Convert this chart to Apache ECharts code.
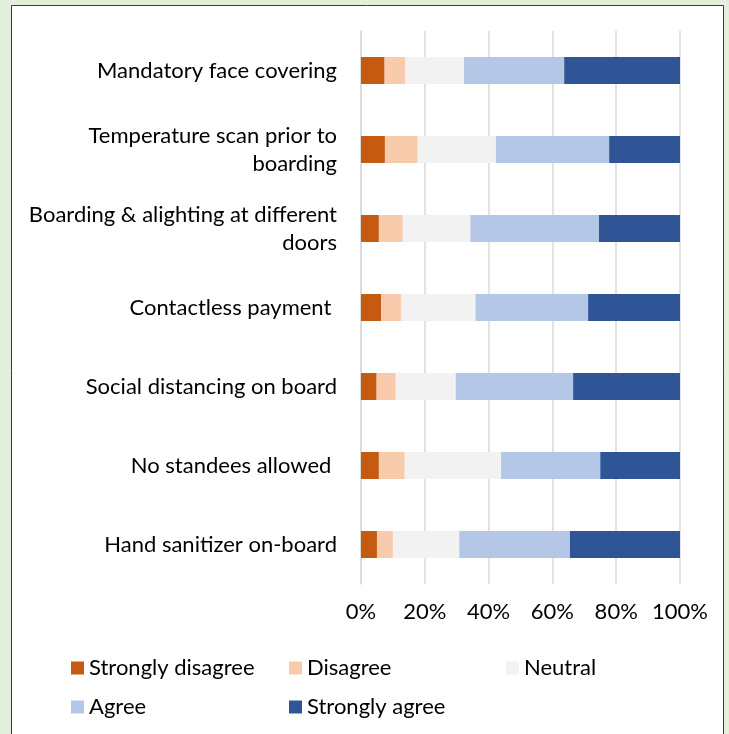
<!DOCTYPE html>
<html>
<head>
<meta charset="utf-8">
<script src="https://cdn.jsdelivr.net/npm/echarts@6/dist/echarts.min.js"></script>
<style>
  html, body { margin: 0; padding: 0; background: #e2efda; overflow: hidden; }
  #chart { width: 729px; height: 734px; }
</style>
</head>
<body>
<div id="chart"></div>
<script>
// Survey measures (top to bottom)
const categories = [
  'Mandatory face covering',
  'Temperature scan prior to\nboarding',
  'Boarding & alighting at different\ndoors',
  'Contactless payment ',
  'Social distancing on board',
  'No standees allowed ',
  'Hand sanitizer on-board'
];

// Share of responses per measure, in percent
const stronglyDisagree = [7.4, 7.5, 5.6, 6.3, 4.9, 5.6, 5.0];
const disagree         = [6.5, 10.3, 7.5, 6.4, 6.0, 8.1, 5.0];
const neutral          = [18.4, 24.5, 21.2, 23.2, 18.8, 30.2, 20.8];
const agree            = [31.4, 35.5, 40.3, 35.3, 36.8, 31.1, 34.7];
const stronglyAgree    = [36.3, 22.2, 25.4, 28.8, 33.5, 25.0, 34.5];

const seriesNames = ['Strongly disagree', 'Disagree', 'Neutral', 'Agree', 'Strongly agree'];
const seriesColors = ['#c55a11', '#f8cbad', '#f2f2f2', '#b4c7e7', '#2f5597'];
const seriesData = [stronglyDisagree, disagree, neutral, agree, stronglyAgree];

// Legend grid: three columns, two rows
const legendCols = [71, 289, 506];
const legendRows = [657, 696];

const FONT = 'Lato, "Open Sans", sans-serif';
const FS = 22;

const chart = echarts.init(document.getElementById('chart'), null, { renderer: 'canvas' });

const legends = seriesNames.map((name, i) => ({
  orient: 'horizontal',
  left: legendCols[i % 3],
  top: legendRows[Math.floor(i / 3)],
  padding: 0,
  itemWidth: 13,
  itemHeight: 13,
  icon: 'rect',
  selectedMode: false,
  data: [name],
  textStyle: { fontFamily: FONT, fontSize: FS, color: '#000' }
}));

chart.setOption({
  backgroundColor: '#e2efda',
  animation: false,
  graphic: [{
    type: 'rect',
    z: -10,
    shape: { x: 11.5, y: 5.5, width: 712, height: 740 },
    style: { fill: '#ffffff', stroke: '#3a3a3a', lineWidth: 1 }
  }],
  legend: legends,
  grid: { left: 361, right: 49, top: 31, bottom: 150, containLabel: false },
  xAxis: {
    type: 'value',
    min: 0,
    max: 100,
    interval: 20,
    axisLine: { show: false },
    axisTick: { show: false },
    splitLine: { show: true, lineStyle: { color: '#d9d9d9', width: 1.5 } },
    axisLabel: {
      formatter: '{value}%',
      fontFamily: FONT,
      fontSize: FS,
      color: '#000',
      margin: 17
    }
  },
  yAxis: {
    type: 'category',
    data: categories,
    inverse: true,
    axisLine: { show: true, lineStyle: { color: '#d9d9d9', width: 1.5 } },
    axisTick: { show: false },
    axisLabel: {
      fontFamily: FONT,
      fontSize: FS,
      color: '#000',
      margin: 24,
      lineHeight: 28,
      align: 'right'
    }
  },
  series: seriesNames.map((name, i) => ({
    name: name,
    type: 'bar',
    stack: 'total',
    barWidth: 27,
    itemStyle: { color: seriesColors[i] },
    data: seriesData[i]
  }))
});
</script>
</body>
</html>
